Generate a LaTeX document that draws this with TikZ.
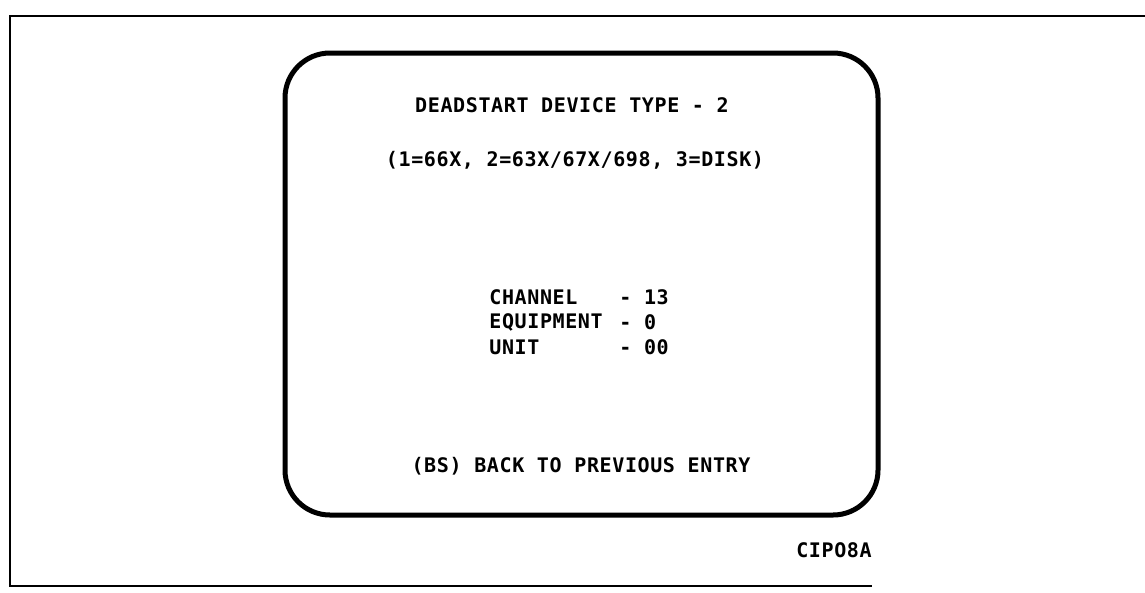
\documentclass[tikz,border=0pt]{standalone}
\usepackage{fontspec}
\newfontfamily\crtfont[LetterSpace=3]{DejaVu Sans Mono}
\usetikzlibrary{positioning}
\tikzset{
	crttext/.style={font=\crtfont\bfseries\fontsize{11.4}{13}\selectfont, inner sep=0pt},
	screen/.style={line width=1mm, rounded corners=9mm},
}

\begin{document}
\begin{tikzpicture}[x=0.2mm, y=-0.2mm]
			%%%%% START %%%%%
			\useasboundingbox (0, 0) rectangle (1145, 592);
			
			% outer frame, open on the right
			\draw[line width=0.3mm] (1145, 16) -- (10, 16) -- (10, 586) -- (872, 586);
			
			% screen
			\draw[screen] (285, 53) rectangle (878, 515);
			
			\node[crttext] (title) at (572, 105) {DEADSTART DEVICE TYPE - 2};
			\node[crttext] (types) at (575, 160) {(1=66X, 2=63X/67X/698, 3=DISK)};
			
			\node[crttext, anchor=west] (chlabel) at (489, 297) {CHANNEL};
			\node[crttext, anchor=west] (eqlabel) at (489, 322) {EQUIPMENT};
			\node[crttext, anchor=west] (unlabel) at (489, 347) {UNIT};
			\node[crttext, anchor=west] (chvalue) at (619, 297) {- 13};
			\node[crttext, anchor=west] (eqvalue) at (619, 322) {- 0};
			\node[crttext, anchor=west] (unvalue) at (619, 347) {- 00};
			
			\node[crttext] (back) at (581, 466) {(BS) BACK TO PREVIOUS ENTRY};
			
			\node[crttext] (figid) at (834, 550) {CIPO8A};
			%%%%% END %%%%%
\end{tikzpicture}
\end{document}
